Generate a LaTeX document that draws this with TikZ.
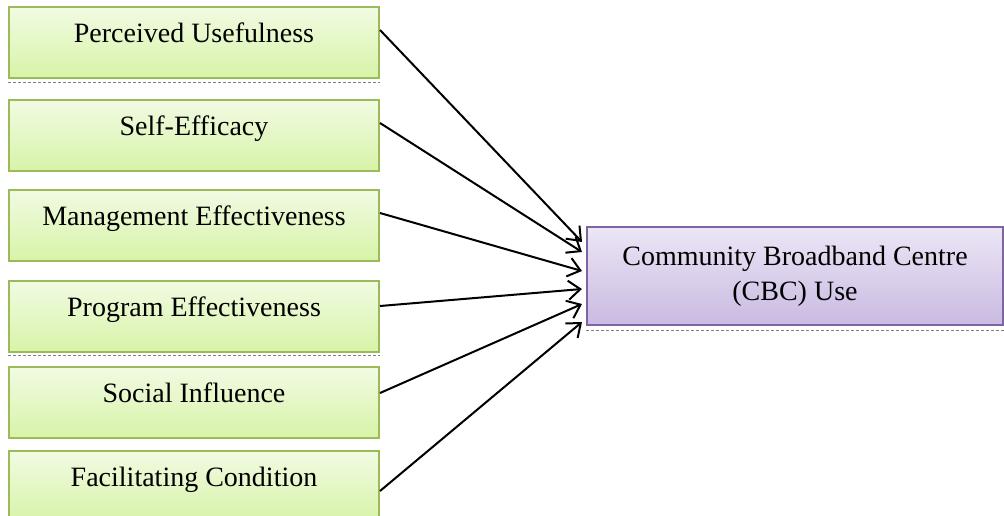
\documentclass[tikz,border=0pt]{standalone}
\usepackage{fontspec}
\setmainfont{Liberation Serif}
\usetikzlibrary{positioning,calc,arrows.meta}
\definecolor{factorline}{HTML}{9BBB59}
\definecolor{factortop}{HTML}{F1FBE3}
\definecolor{factorbottom}{HTML}{D8F3A8}
\definecolor{useline}{HTML}{8064A2}
\definecolor{usetop}{HTML}{ECE6F5}
\definecolor{usebottom}{HTML}{C9BAE2}

\begin{document}
\begin{tikzpicture}[x=1pt,y=1pt,
    factor block/.style={rectangle, draw=factorline, line width=2pt,
        top color=factortop, bottom color=factorbottom,
        minimum width=370pt, minimum height=71pt, text height=10pt, text depth=10pt,
        font=\fontsize{28}{34}\selectfont},
    use block/.style={rectangle, draw=useline, line width=2pt,
        top color=usetop, bottom color=usebottom,
        minimum width=416pt, minimum height=98pt, align=center,
        font=\fontsize{28}{35}\selectfont},
    shadow line/.style={gray, densely dashed, line width=0.6pt},
    link/.style={-{Straight Barb[length=12pt,width=19pt,line width=2pt]}, line width=2pt}]
    \useasboundingbox (0,0) rectangle (1004,-515);
    % factors on the left
    \node[factor block] (pu) at (194,-42) {Perceived Usefulness};
    \node[factor block] (se) [below=20pt of pu] {Self-Efficacy};
    \node[factor block] (me) [below=17pt of se] {Management Effectiveness};
    \node[factor block] (pe) [below=18pt of me] {Program Effectiveness};
    \node[factor block] (si) [below=13pt of pe] {Social Influence};
    \node[factor block] (fc) [below=11pt of si] {Facilitating Condition};
    % outcome
    \node[use block] (cbc) at (795,-276) {Community Broadband Centre\\(CBC) Use};
    % dotted edges under some boxes
    \draw[shadow line] ([yshift=-4pt]pu.south west) -- ([yshift=-4pt]pu.south east);
    \draw[shadow line] ([yshift=-3pt]pe.south west) -- ([yshift=-3pt]pe.south east);
    \draw[shadow line] ([yshift=-4pt]cbc.south west) -- ([yshift=-4pt]cbc.south east);
    % arrows
    \draw[link] ([yshift=12pt]pu.east) -- ([xshift=-4pt,yshift=34pt]cbc.west);
    \draw[link] ([yshift=12pt]se.east) -- ([xshift=-4pt,yshift=24pt]cbc.west);
    \draw[link] ([yshift=12pt]me.east) -- ([xshift=-4pt,yshift=5pt]cbc.west);
    \draw[link] ([yshift=10pt]pe.east) -- ([xshift=-4pt,yshift=-13pt]cbc.west);
    \draw[link] ([yshift=9pt]si.east) -- ([xshift=-4pt,yshift=-28pt]cbc.west);
    \draw[link] ([yshift=-5pt]fc.east) -- ([xshift=-4pt,yshift=-46pt]cbc.west);
\end{tikzpicture}
\end{document}
